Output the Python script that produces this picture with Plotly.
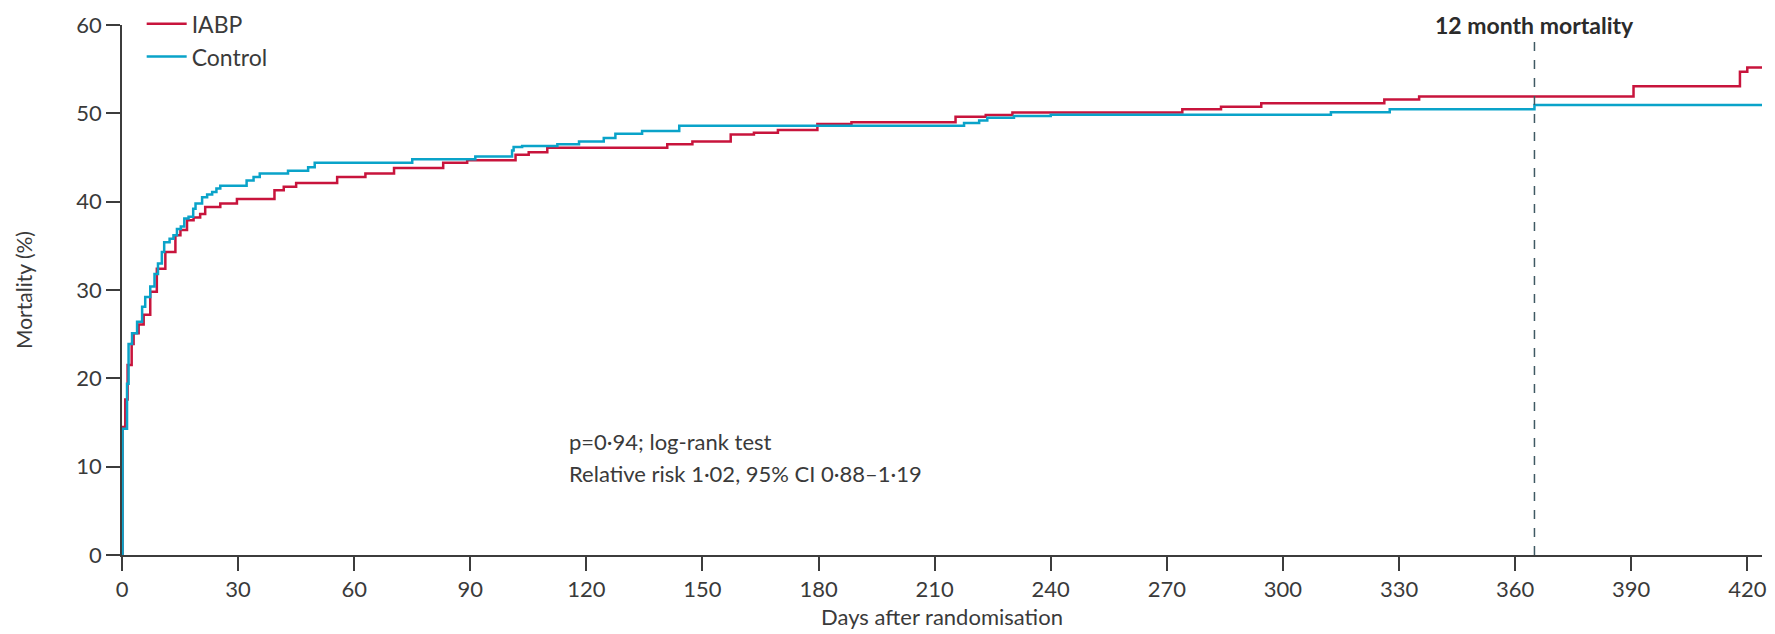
import plotly.graph_objects as go

# Kaplan-Meier style cumulative mortality (%), step events (day, cumulative %)
iabp_days = [0, 0.15, 0.85, 1.45, 2.5, 3.0, 4.3, 5.6, 7.3, 9.0, 11.2, 13.8, 15.1, 16.8, 18.5,
             20.2, 21.5, 25.4, 29.7, 39.4, 41.8, 45.0, 55.6, 62.9, 70.3, 83.0, 89.2, 101.7,
             105.1, 109.9, 140.9, 147.4, 157.3, 163.3, 169.5, 179.7, 188.5, 215.4, 223.2,
             230.1, 274.0, 284.0, 294.4, 326.2, 335.2, 390.6, 418.1, 420.0, 423.8]
iabp_mort = [0, 14.5, 17.6, 21.5, 23.9, 25.1, 26.1, 27.2, 29.8, 32.4, 34.3, 36.2, 36.8, 37.9, 38.2,
             38.6, 39.4, 39.8, 40.3, 41.3, 41.7, 42.1, 42.8, 43.2, 43.8, 44.4, 44.7, 45.3,
             45.6, 46.1, 46.5, 46.8, 47.6, 47.8, 48.1, 48.8, 49.0, 49.6, 49.8,
             50.1, 50.45, 50.74, 51.15, 51.57, 51.9, 53.06, 54.7, 55.2, 55.2]

control_days = [0, 0.15, 1.3, 1.7, 2.6, 3.9, 5.2, 6.0, 7.3, 8.4, 9.3, 10.3, 10.9, 12.3, 13.3,
                14.2, 15.2, 16.1, 17.2, 18.4, 19.0, 20.7, 22.0, 23.3, 24.4, 25.4, 32.2, 34.0,
                35.6, 42.9, 48.1, 49.8, 75.0, 91.3, 100.8, 101.2, 103.4, 112.5, 118.1, 124.5,
                127.5, 134.4, 144.0, 217.6, 221.5, 223.6, 230.5, 240.0, 312.4, 327.6, 365.0, 423.8]
control_mort = [0, 14.3, 19.4, 23.9, 25.1, 26.4, 28.1, 29.2, 30.4, 31.8, 33.0, 34.3, 35.4, 35.8, 36.2,
                36.9, 37.2, 38.1, 38.3, 39.2, 39.8, 40.5, 40.8, 41.1, 41.5, 41.8, 42.4, 42.8,
                43.2, 43.5, 43.9, 44.4, 44.8, 45.1, 45.8, 46.2, 46.3, 46.5, 46.8, 47.2,
                47.7, 48.0, 48.6, 48.9, 49.2, 49.5, 49.7, 49.85, 50.12, 50.45, 50.95, 50.95]

x_ticks = list(range(0, 421, 30))
y_ticks = list(range(0, 61, 10))

FONT = "Lato, 'Open Sans', sans-serif"
TXT = "#3a3a3a"
AX = "#3c3c3c"

fig = go.Figure()
fig.add_trace(go.Scatter(x=iabp_days, y=iabp_mort, mode="lines", name="IABP",
                         line=dict(color="#c8143c", width=2.5, shape="hv")))
fig.add_trace(go.Scatter(x=control_days, y=control_mort, mode="lines", name="Control",
                         line=dict(color="#0aa3c9", width=2.5, shape="hv")))

fig.add_shape(type="line", x0=365, x1=365, y0=0, y1=58.6, xref="x", yref="y",
              line=dict(color="#3f5963", width=1.5, dash="dash"))

fig.add_annotation(x=365, y=1.0, xref="x", yref="paper", text="<b>12 month mortality</b>",
                   showarrow=False, font=dict(family=FONT, size=23, color="#2b2b2b"),
                   xanchor="center", yanchor="middle")
fig.add_annotation(x=114.9, y=12.8, xref="x", yref="y", text="p=0·94; log-rank test",
                   showarrow=False, font=dict(family=FONT, size=22, color=TXT),
                   xanchor="left", yanchor="middle")
fig.add_annotation(x=114.9, y=9.25, xref="x", yref="y", text="Relative risk 1·02, 95% CI 0·88–1·19",
                   showarrow=False, font=dict(family=FONT, size=22, color=TXT),
                   xanchor="left", yanchor="middle")

fig.update_layout(
    width=1767, height=626,
    margin=dict(l=114, r=13, t=17, b=79, autoexpand=False),
    paper_bgcolor="white", plot_bgcolor="white",
    font=dict(family=FONT, size=22, color=TXT),
    showlegend=True,
    legend=dict(x=0.012, y=1.043, xanchor="left", yanchor="top",
                font=dict(family=FONT, size=23, color=TXT),
                bgcolor="rgba(0,0,0,0)", itemwidth=40, tracegroupgap=4),
    xaxis=dict(range=[0, 423.8], tickmode="array", tickvals=x_ticks,
               ticktext=[str(v) for v in x_ticks], ticks="outside", ticklen=14,
               tickwidth=1.5, tickcolor=AX, showline=True, linecolor=AX, linewidth=1.5,
               showgrid=False, zeroline=False,
               title=dict(text="Days after randomisation", font=dict(family=FONT, size=22, color=TXT), standoff=8),
               tickfont=dict(family=FONT, size=22, color=TXT)),
    yaxis=dict(range=[0, 60], tickmode="array", tickvals=y_ticks,
               ticktext=[str(v) for v in y_ticks], ticks="outside", ticklen=14,
               tickwidth=1.5, tickcolor=AX, showline=True, linecolor=AX, linewidth=1.5,
               showgrid=False, zeroline=False,
               title=dict(text="Mortality (%)", font=dict(family=FONT, size=21, color=TXT), standoff=38),
               tickfont=dict(family=FONT, size=22, color=TXT)),
)

fig.write_html("out.html")
